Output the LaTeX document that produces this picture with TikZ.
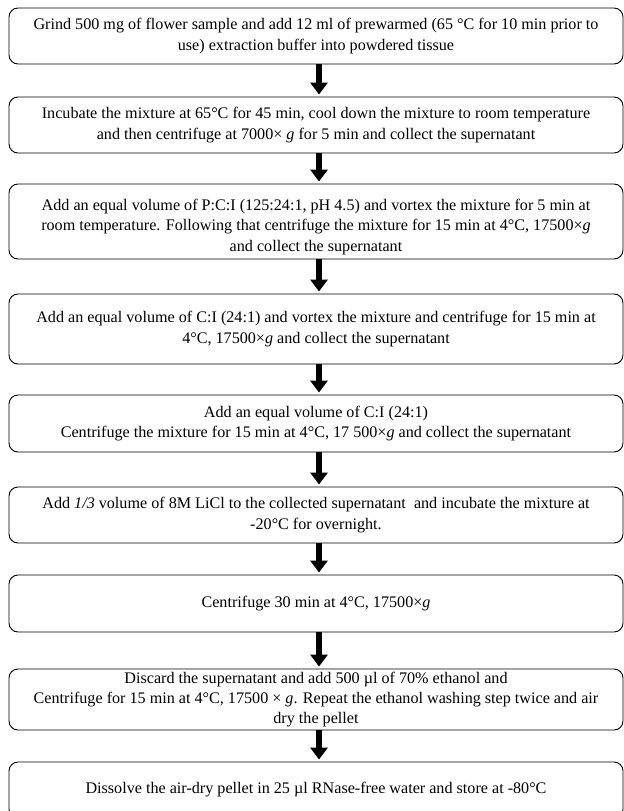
\documentclass[tikz,border=0pt]{standalone}
\usepackage{fontspec}
\setmainfont{Liberation Serif}
\usetikzlibrary{arrows.meta}
\begin{document}
\begin{tikzpicture}[x=1bp,y=-1bp,
  stepbox/.style={draw=black, line width=0.9bp, rounded corners=9bp,
    minimum width=614bp, align=center, inner sep=2bp,
    font=\fontsize{16.2}{20.5}\selectfont},
  flow/.style={line width=6bp, -{Triangle[width=17bp,length=12bp]}, shorten >=2bp}]
\useasboundingbox (0,0) rectangle (624,811);
\clip (0,0) rectangle (624,811);
\coordinate (ax) at (319,0);
\node[stepbox, minimum height=56bp] (s1) at (316,36)
  {Grind 500 mg of flower sample and add 12 ml of prewarmed (65 °C for 10 min prior to\\
   use) extraction buffer into powdered tissue};
\node[stepbox, minimum height=56bp] (s2) at (316,125)
  {Incubate the mixture at 65°C for 45 min, cool down the mixture to room temperature\\
   and then centrifuge at 7000× \textit{g} for 5 min and collect the supernatant};
\node[stepbox, minimum height=75bp] (s3) at (316,221.5)
  {\rule{0pt}{22bp}Add an equal volume of P:C:I (125:24:1, pH 4.5) and vortex the mixture for 5 min at\\
   room temperature. Following that centrifuge the mixture for 15 min at 4°C, 17500×\textit{g}\\
   and collect the supernatant};
\node[stepbox, minimum height=70bp] (s4) at (316,329)
  {Add an equal volume of C:I (24:1) and vortex the mixture and centrifuge for 15 min at\\
   4°C, 17500×\textit{g} and collect the supernatant};
\node[stepbox, minimum height=57bp] (s5) at (316,423.5)
  {Add an equal volume of C:I (24:1)\\
   Centrifuge the mixture for 15 min at 4°C, 17 500×\textit{g} and collect the supernatant};
\node[stepbox, minimum height=56bp] (s6) at (316,515)
  {Add \textit{1/3} volume of 8M LiCl to the collected supernatant~ and incubate the mixture at\\
   -20°C for overnight.};
\node[stepbox, minimum height=57bp] (s7) at (316,603.5)
  {Centrifuge 30 min at 4°C, 17500×\textit{g}};
\node[stepbox, minimum height=61bp] (s8) at (316,699.5)
  {Discard the supernatant and add 500 µl of 70\% ethanol and\\
   Centrifuge for 15 min at 4°C, 17500 × \textit{g}. Repeat the ethanol washing step twice and air\\
   dry the pellet};
\node[stepbox, minimum height=56bp] (s9) at (316,790)
  {Dissolve the air-dry pellet in 25 µl RNase-free water and store at -80°C};
\draw[flow] (s1.south -| ax) -- (s2.north -| ax);
\draw[flow] (s2.south -| ax) -- (s3.north -| ax);
\draw[flow] (s3.south -| ax) -- (s4.north -| ax);
\draw[flow] (s4.south -| ax) -- (s5.north -| ax);
\draw[flow] (s5.south -| ax) -- (s6.north -| ax);
\draw[flow] (s6.south -| ax) -- (s7.north -| ax);
\draw[flow] (s7.south -| ax) -- (s8.north -| ax);
\draw[flow] (s8.south -| ax) -- (s9.north -| ax);
\end{tikzpicture}
\end{document}
